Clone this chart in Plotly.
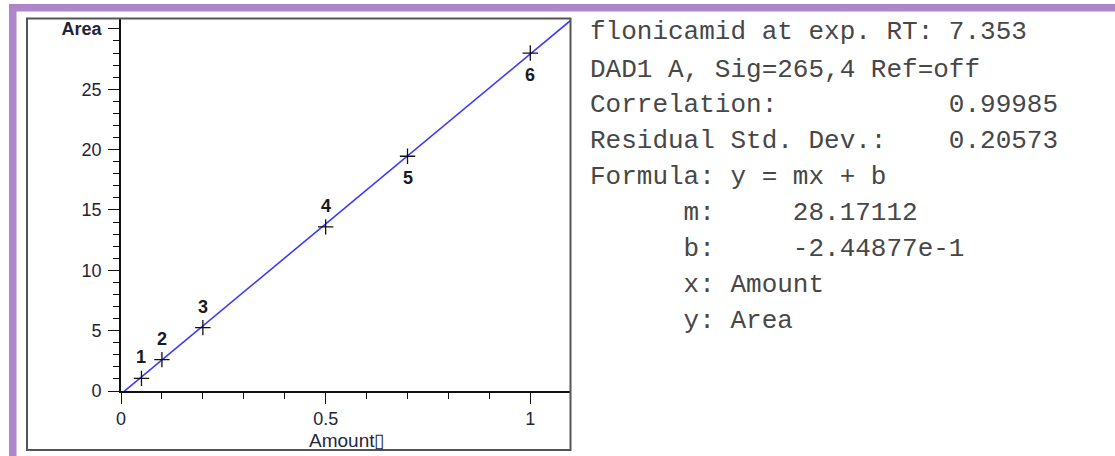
import plotly.graph_objects as go

# ---- data ----
amount = [0.05, 0.1, 0.2, 0.5, 0.7, 1.0]
area = [1.05, 2.6, 5.25, 13.6, 19.45, 28.0]
level_labels = ["1", "2", "3", "4", "5", "6"]
label_above = [True, True, True, True, False, False]
fit_x = [0.0, 1.1]
fit_y = [-0.245, 30.74]
y_tickvals = [0, 5, 10, 15, 20, 25, 30]
y_ticktext = ["0", "5", "10", "15", "20", "25", "<b>Area</b>"]
x_tickvals = [0, 0.5, 1]
x_ticktext = ["0", "0.5", "1"]
x_title = "Amount\u25af"
info_lines = [
    "flonicamid at exp. RT: 7.353",
    "DAD1 A, Sig=265,4 Ref=off",
    "Correlation:           0.99985",
    "Residual Std. Dev.:    0.20573",
    "Formula: y = mx + b",
    "      m:     28.17112",
    "      b:     -2.44877e-1",
    "      x: Amount",
    "      y: Area",
]

# ---- geometry (pixels) ----
W, H = 1115, 456
L, R, T, B = 121, 544, 18, 65
PW = W - L - R
PH = H - T - B
BOTTOM_PX = H - B


def px_x(p):
    return (p - L) / PW


def px_y(p):
    return (BOTTOM_PX - p) / PH


fig = go.Figure()

fig.add_trace(go.Scatter(
    x=fit_x, y=fit_y, mode="lines",
    line=dict(color="#3a3aff", width=1.6),
    hoverinfo="skip", showlegend=False,
))
fig.add_trace(go.Scatter(
    x=amount, y=area, mode="markers",
    marker=dict(symbol="cross-thin", size=11, line=dict(color="#111111", width=1.3)),
    showlegend=False,
))

annotations = []
for xv, yv, lab, above in zip(amount, area, level_labels, label_above):
    annotations.append(dict(
        x=xv, y=yv, xref="x", yref="y", text="<b>%s</b>" % lab,
        showarrow=False, yshift=21 if above else -22,
        font=dict(family="Liberation Sans, Arial, sans-serif", size=18, color="#1a1a22"),
    ))

annotations.append(dict(
    x=0.5, y=px_y(440), xref="paper", yref="paper", text=x_title,
    showarrow=False, xanchor="center", yanchor="middle",
    font=dict(family="Liberation Sans Narrow, Arial Narrow, Liberation Sans, sans-serif",
              size=19, color="#22283a"),
))

line_y_px = [32, 70, 105, 141, 177, 213, 249, 285, 321]
for txt, yp in zip(info_lines, line_y_px):
    annotations.append(dict(
        x=px_x(588), y=px_y(yp), xref="paper", yref="paper",
        text=txt.replace(" ", "\u00a0"), showarrow=False,
        xanchor="left", yanchor="middle",
        font=dict(family="Courier New, Liberation Mono, monospace", size=26, color="#474747"),
    ))

purple = "#ae86c9"
shapes = [
    # chart frame
    dict(type="rect", xref="paper", yref="paper",
         x0=px_x(27), x1=px_x(570.5), y0=px_y(450), y1=px_y(18.5),
         line=dict(color="#555555", width=2), fillcolor="rgba(0,0,0,0)", layer="above"),
    # purple top bar
    dict(type="rect", xref="paper", yref="paper",
         x0=px_x(9), x1=px_x(1116), y0=px_y(11.5), y1=px_y(4),
         line=dict(width=0), fillcolor=purple, layer="above"),
    # purple left bar
    dict(type="rect", xref="paper", yref="paper",
         x0=px_x(9), x1=px_x(16.5), y0=px_y(457), y1=px_y(4),
         line=dict(width=0), fillcolor=purple, layer="above"),
]

tickfont = dict(family="Liberation Sans, Arial, sans-serif", size=18, color="#1e2438")

fig.update_layout(
    width=W, height=H,
    margin=dict(l=L, r=R, t=T, b=B, pad=0),
    paper_bgcolor="white", plot_bgcolor="white",
    annotations=annotations, shapes=shapes,
    showlegend=False,
    xaxis=dict(
        range=[0, PW / 409.3], showgrid=False, zeroline=False,
        showline=True, linecolor="#111111", linewidth=1.6,
        ticks="outside", ticklen=11, tickwidth=1.3, tickcolor="#111111",
        tickvals=x_tickvals, ticktext=x_ticktext, tickfont=tickfont,
        ticklabelstandoff=0,
        minor=dict(dtick=0.1, tick0=0, ticks="outside", ticklen=6, tickwidth=1.3,
                   tickcolor="#111111", showgrid=False),
        automargin=False,
    ),
    yaxis=dict(
        range=[0, PH / 12.07], showgrid=False, zeroline=False,
        showline=True, linecolor="#111111", linewidth=1.6,
        ticks="outside", ticklen=11, tickwidth=1.3, tickcolor="#111111",
        tickvals=y_tickvals, ticktext=y_ticktext, tickfont=tickfont,
        ticklabelstandoff=3,
        minor=dict(dtick=1, tick0=0, ticks="outside", ticklen=6, tickwidth=1.3,
                   tickcolor="#111111", showgrid=False),
        automargin=False,
    ),
)

fig.write_html("out.html", config={"displayModeBar": False},
               post_script="document.body.style.margin='0';")
